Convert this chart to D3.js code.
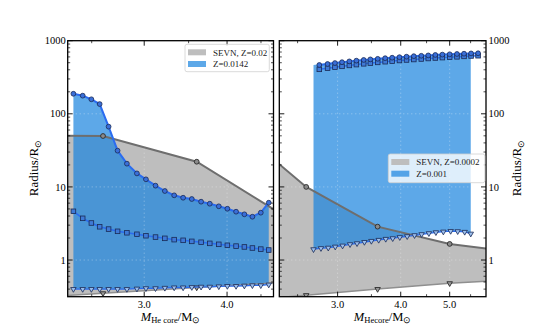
<!DOCTYPE html>
<html><head><meta charset="utf-8">
<script src="https://cdn.jsdelivr.net/npm/d3@7"></script>
<style>body{margin:0;background:#fff}svg{display:block}text{font-family:"Liberation Serif","Times New Roman",serif}</style>
</head><body><svg id="c" width="540" height="334"></svg>
<script>
// ---- data ----
const leftBlueMass = [2.346,2.423,2.497,2.570,2.651,2.735,2.825,2.925,3.018,3.120,3.223,3.329,3.434,3.539,3.655,3.767,3.887,4.004,4.127,4.248,4.368,4.497,4.623];
const leftBlueMax = [188,177,158,136,66.7,31.3,20.8,15.3,12.7,10.4,8.79,7.67,7.11,6.83,6.28,5.89,5.43,5.03,4.58,4.22,3.91,4.44,6.08];
const leftBlueMid = [4.64,3.72,3.21,2.85,2.65,2.47,2.36,2.25,2.15,2.06,1.98,1.90,1.86,1.80,1.75,1.69,1.64,1.59,1.55,1.51,1.46,1.41,1.37];
const leftBlueMin = [0.40,0.40,0.40,0.40,0.40,0.40,0.40,0.405,0.41,0.41,0.415,0.42,0.42,0.425,0.43,0.43,0.435,0.44,0.44,0.445,0.45,0.45,0.46];
const leftGrayMass = [2.2,2.6,3.6,5.0];
const leftGrayMax = [50,49.7,22.1,3.5];
const leftGrayMin = [0.32,0.35,0.42,0.50];

const rightBlueMassTri = [2.688,2.781,2.875,2.968,3.069,3.175,3.278,3.390,3.499,3.618,3.736,3.857,3.983,4.120,4.260,4.399,4.548,4.696,4.858,5.022,5.186,5.354,5.504];
const rightBlueMassCirc = [2.760,2.866,2.964,3.061,3.165,3.268,3.379,3.483,3.602,3.726,3.847,3.977,4.107,4.246,4.393,4.535,4.683,4.836,5.000,5.169,5.338,5.512,5.691];
const rightBlueMax = [465,480,495,508,521,533,545,555,565,576,585,595,604,614,622,629,638,645,652,658,664,670,673];
const rightBlueMid = [406,421,434,446,459,471,483,494,505,516,526,536,545,553,562,571,580,587,595,602,610,618,623];
const rightBlueMin = [1.40,1.45,1.47,1.52,1.57,1.64,1.69,1.76,1.82,1.88,1.94,1.98,2.05,2.11,2.18,2.25,2.32,2.39,2.44,2.49,2.47,2.42,2.29];
const rightGrayMass = [2.2,2.6,3.6,5.0,6.0];
const rightGrayMax = [26.5,10,2.86,1.66,1.42];
const rightGrayMin = [0.30,0.33,0.40,0.48,0.515];

const xTicks = [3,4,5];
const yTicks = [1,10,100,1000];
const legendLeft = ["SEVN, Z=0.02","Z=0.0142"];
const legendRight = ["SEVN, Z=0.0002","Z=0.001"];

// ---- drawing ----
const svg = d3.select("#c");
const y = d3.scaleLog().domain([0.315,1000]).range([296.7,40.7]);
const BLUE_FILL = "#1b84de", BLUE_LINE = "#2b6cf0", EDGE = "#1a2a55";

const panels = [
  {x: d3.scaleLog().domain([2.3,4.7]).range([67.7,273.5]), side:"left",
   g:{m:leftGrayMass,max:leftGrayMax,min:leftGrayMin},
   b:{mf:leftBlueMass,mc:leftBlueMass,max:leftBlueMax,mid:leftBlueMid,min:leftBlueMin},
   leg:legendLeft, legBox:[185,44.3,84.3,27.4], xlab:"He core"},
  {x: d3.scaleLog().domain([2.3,5.9]).range([279.3,486]), side:"right",
   g:{m:rightGrayMass,max:rightGrayMax,min:rightGrayMin},
   b:{mf:rightBlueMassTri,mc:rightBlueMassCirc,max:rightBlueMax,mid:rightBlueMid,min:rightBlueMin},
   leg:legendRight, legBox:[388.3,154,96.5,28.7], xlab:"Hecore"}
];

const tri = d3.symbol().type(d3.symbolTriangle).size(13);

panels.forEach((p,pi)=>{
  const x = p.x;
  const [x0,x1] = x.range();
  const [yb,yt] = y.range();
  const id = "clip"+pi;
  svg.append("clipPath").attr("id",id).append("rect").attr("x",x0).attr("y",yt).attr("width",x1-x0).attr("height",yb-yt);
  const g = svg.append("g").attr("clip-path",`url(#${id})`);

  // gray fill
  const gm = p.g.m.map((m,i)=>({m, hi:p.g.max[i], lo:p.g.min[i]}));
  g.append("path").datum(gm)
    .attr("d", d3.area().x(d=>x(d.m)).y0(d=>y(d.lo)).y1(d=>y(d.hi)))
    .attr("fill","#bebebe");
  // blue fill
  const bf = p.b.mf.map((m,i)=>({m, hi:p.b.max[i], lo:p.b.min[i]}));
  g.append("path").datum(bf)
    .attr("d", d3.area().x(d=>x(d.m)).y0(d=>y(d.lo)).y1(d=>y(d.hi)))
    .attr("fill",BLUE_FILL).attr("fill-opacity",0.71);

  // grid
  xTicks.forEach(t=>{ if(t>=x.domain()[0]&&t<=x.domain()[1])
    g.append("line").attr("x1",x(t)).attr("x2",x(t)).attr("y1",yt).attr("y2",yb)
     .attr("stroke","#fff").attr("stroke-opacity",0.4).attr("stroke-dasharray","1,3");});
  yTicks.forEach(t=>g.append("line").attr("x1",x0).attr("x2",x1).attr("y1",y(t)).attr("y2",y(t))
     .attr("stroke","#fff").attr("stroke-opacity",0.4).attr("stroke-dasharray","1,3"));

  // gray lines
  const line = d3.line().x(d=>x(d.m)).y(d=>y(d.v));
  g.append("path").datum(gm.map(d=>({m:d.m,v:d.hi}))).attr("d",line)
    .attr("fill","none").attr("stroke","#6e6e6e").attr("stroke-width",2);
  g.append("path").datum(gm.map(d=>({m:d.m,v:d.lo}))).attr("d",line)
    .attr("fill","none").attr("stroke","#8f8f8f").attr("stroke-width",1.5);
  g.selectAll(null).data(gm).enter().append("circle")
    .attr("cx",d=>x(d.m)).attr("cy",d=>y(d.hi)).attr("r",2.4)
    .attr("fill","#8a8a8a").attr("stroke","#2a2a2a").attr("stroke-width",0.9);
  g.selectAll(null).data(gm).enter().append("path").attr("d",tri)
    .attr("transform",d=>`translate(${x(d.m)},${y(d.lo)}) rotate(180)`)
    .attr("fill","#9a9a9a").attr("stroke","#2a2a2a").attr("stroke-width",0.9);

  // blue lines
  const bc = p.b.mc.map((m,i)=>({m, hi:p.b.max[i], mid:p.b.mid[i]}));
  const bt = p.b.mf.map((m,i)=>({m, lo:p.b.min[i]}));
  g.append("path").datum(bt.map(d=>({m:d.m,v:d.lo}))).attr("d",line)
    .attr("fill","none").attr("stroke",BLUE_LINE).attr("stroke-width",1.3);
  g.append("path").datum(bc.map(d=>({m:d.m,v:d.mid}))).attr("d",line)
    .attr("fill","none").attr("stroke",BLUE_LINE).attr("stroke-width",1.5);
  g.append("path").datum(bc.map(d=>({m:d.m,v:d.hi}))).attr("d",line)
    .attr("fill","none").attr("stroke",BLUE_LINE).attr("stroke-width",2);
  g.selectAll(null).data(bt).enter().append("path").attr("d",tri)
    .attr("transform",d=>`translate(${x(d.m)},${y(d.lo)}) rotate(180)`)
    .attr("fill","#9cc0ee").attr("stroke",EDGE).attr("stroke-width",0.8);
  g.selectAll(null).data(bc).enter().append("rect")
    .attr("x",d=>x(d.m)-2.3).attr("y",d=>y(d.mid)-2.3).attr("width",4.6).attr("height",4.6)
    .attr("fill","#3f7ad6").attr("stroke",EDGE).attr("stroke-width",0.8);
  g.selectAll(null).data(bc).enter().append("circle")
    .attr("cx",d=>x(d.m)).attr("cy",d=>y(d.hi)).attr("r",2.4)
    .attr("fill","#3a6fd8").attr("stroke",EDGE).attr("stroke-width",0.8);

  // frame + ticks
  const ax = svg.append("g");
  ax.append("rect").attr("x",x0).attr("y",yt).attr("width",x1-x0).attr("height",yb-yt)
    .attr("fill","none").attr("stroke","#000").attr("stroke-width",1.3);
  const yMinor = [];
  for (let e=-1;e<3;e++) for (let k=2;k<10;k++){const v=k*Math.pow(10,e); if(v>=0.315&&v<=1000) yMinor.push(v);}
  yTicks.forEach(t=>{
    ax.append("line").attr("x1",x0).attr("x2",x0+5).attr("y1",y(t)).attr("y2",y(t)).attr("stroke","#000").attr("stroke-width",0.9);
    ax.append("line").attr("x1",x1).attr("x2",x1-5).attr("y1",y(t)).attr("y2",y(t)).attr("stroke","#000").attr("stroke-width",0.9);
  });
  yMinor.forEach(t=>{
    ax.append("line").attr("x1",x0).attr("x2",x0+2.5).attr("y1",y(t)).attr("y2",y(t)).attr("stroke","#000").attr("stroke-width",0.7);
    ax.append("line").attr("x1",x1).attr("x2",x1-2.5).attr("y1",y(t)).attr("y2",y(t)).attr("stroke","#000").attr("stroke-width",0.7);
  });
  const xMinor = d3.range(2.5,6.0,0.5).filter(t=>!xTicks.includes(t) && t>x.domain()[0] && t<x.domain()[1]);
  xTicks.filter(t=>t<=x.domain()[1]).forEach(t=>{
    ax.append("line").attr("x1",x(t)).attr("x2",x(t)).attr("y1",yb).attr("y2",yb-5).attr("stroke","#000").attr("stroke-width",0.9);
    ax.append("line").attr("x1",x(t)).attr("x2",x(t)).attr("y1",yt).attr("y2",yt+5).attr("stroke","#000").attr("stroke-width",0.9);
    ax.append("text").attr("x",x(t)).attr("y",yb+11).attr("text-anchor","middle").attr("font-size",10.5).text(t.toFixed(1));
  });
  xMinor.forEach(t=>{
    ax.append("line").attr("x1",x(t)).attr("x2",x(t)).attr("y1",yb).attr("y2",yb-2.5).attr("stroke","#000").attr("stroke-width",0.7);
    ax.append("line").attr("x1",x(t)).attr("x2",x(t)).attr("y1",yt).attr("y2",yt+2.5).attr("stroke","#000").attr("stroke-width",0.7);
  });
  // y tick labels
  yTicks.forEach(t=>{
    if (p.side==="left")
      ax.append("text").attr("x",x0-2).attr("y",y(t)+3.6).attr("text-anchor","end").attr("font-size",10.5).text(t);
    else
      ax.append("text").attr("x",x1+2.5).attr("y",y(t)+3.6).attr("text-anchor","start").attr("font-size",10.5).text(t);
  });
  // x label
  const xl = ax.append("text").attr("x",(x0+x1)/2).attr("y",320.5).attr("text-anchor","middle").attr("font-size",12.5);
  xl.append("tspan").attr("font-style","italic").text("M");
  xl.append("tspan").attr("font-size",8.5).attr("dy",2.5).text(p.xlab);
  xl.append("tspan").attr("dy",-2.5).text("/M");
  xl.append("tspan").attr("font-size",8.5).attr("dy",2.5).text("⊙");
  // y label
  const lx = p.side==="left" ? 38 : 521;
  const yl = ax.append("text").attr("transform",`translate(${lx},168) rotate(-90)`).attr("text-anchor","middle").attr("font-size",13);
  yl.append("tspan").text("Radius/R");
  yl.append("tspan").attr("font-size",9).attr("dy",3).text("⊙");

  // legend
  const [lx0,ly0,lw,lh] = p.legBox;
  const lg = svg.append("g");
  lg.append("rect").attr("x",lx0).attr("y",ly0).attr("width",lw).attr("height",lh).attr("rx",2)
    .attr("fill","#fff").attr("fill-opacity",0.8).attr("stroke","#d0d0d0").attr("stroke-width",0.8);
  const sw = [{f:"#bebebe",o:1},{f:BLUE_FILL,o:0.71}];
  p.leg.forEach((s,i)=>{
    const cy = ly0 + 8 + i*11.7;
    lg.append("rect").attr("x",lx0+3).attr("y",cy-3).attr("width",18).attr("height",6)
      .attr("fill",sw[i].f).attr("fill-opacity",sw[i].o);
    lg.append("text").attr("x",lx0+28).attr("y",cy+3.2).attr("font-size",9).attr("fill","#222").text(s);
  });
});
</script></body></html>
